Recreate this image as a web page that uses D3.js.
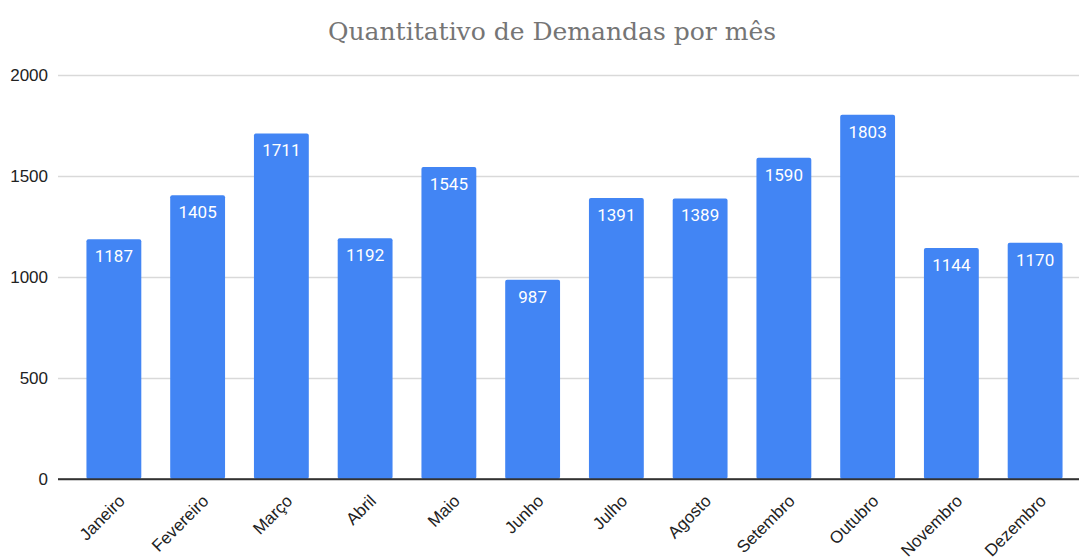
<!DOCTYPE html>
<html><head><meta charset="utf-8">
<script src="https://cdn.jsdelivr.net/npm/d3@7"></script>
<style>body{margin:0;background:#fff;}svg{display:block;}</style>
</head><body>
<svg id="c" width="1079" height="560"></svg>
<script>
const months = ["Janeiro","Fevereiro","Março","Abril","Maio","Junho","Julho","Agosto","Setembro","Outubro","Novembro","Dezembro"];
const values = [1187,1405,1711,1192,1545,987,1391,1389,1590,1803,1144,1170];
const yTicks = [0,500,1000,1500,2000];
const title = "Quantitativo de Demandas por mês";

const svg = d3.select("#c");
const plotLeft = 58, plotRight = 1079, plotTop = 75, plotBottom = 479;

const x = d3.scaleBand().domain(months).range([72, 1077]).paddingInner(0.345).paddingOuter(0.1725);
const y = d3.scaleLinear().domain([0, 2000]).range([plotBottom, plotTop]);

svg.append("text").attr("x", 552).attr("y", 40).attr("text-anchor", "middle")
  .style("font-family", "Georgia, 'DejaVu Serif', serif").style("font-size", "25px")
  .attr("fill", "#757575").text(title);

const yAxis = d3.axisLeft(y).tickValues(yTicks).tickFormat(d3.format("d")).tickSize(0).tickPadding(10);
const g = svg.append("g").attr("transform", `translate(${plotLeft},0)`).call(yAxis);
g.select(".domain").remove();
g.selectAll(".tick line").remove();
g.selectAll(".tick").append("line").attr("x1", 0).attr("x2", plotRight - plotLeft)
  .attr("stroke", d => d === 0 ? "#333" : "#d9d9d9").attr("stroke-width", d => d === 0 ? 1.3 : 1.5);
g.selectAll(".tick text").style("font-family", "Arial, 'Liberation Sans', sans-serif")
  .style("font-size", "17px").attr("fill", "#222");

svg.append("g").selectAll("rect").data(values).join("rect")
  .attr("x", (d, i) => x(months[i])).attr("y", d => y(d))
  .attr("width", x.bandwidth()).attr("height", d => plotBottom - y(d))
  .attr("rx", 2).attr("fill", "#4285f4");
svg.append("line").attr("x1", plotLeft).attr("x2", plotRight).attr("y1", y(0)).attr("y2", y(0))
  .attr("stroke", "#333").attr("stroke-width", 1.3);

svg.append("g").selectAll("text").data(values).join("text")
  .attr("x", (d, i) => x(months[i]) + x.bandwidth() / 2).attr("y", d => y(d) + 23)
  .attr("text-anchor", "middle").style("font-family", "Roboto, sans-serif")
  .style("font-size", "17px").attr("fill", "#fff").text(d => d);

const xAxis = d3.axisBottom(x).tickSize(0).tickPadding(0);
const xg = svg.append("g").attr("transform", `translate(0,${plotBottom})`).call(xAxis);
xg.select(".domain").remove();
xg.selectAll(".tick text").style("font-family", "Arial, 'Liberation Sans', sans-serif")
  .style("font-size", "17px").attr("fill", "#222")
  .attr("text-anchor", "end").attr("dy", 0).attr("y", 0)
  .attr("transform", "translate(12,23) rotate(-45)");
</script>
</body></html>
